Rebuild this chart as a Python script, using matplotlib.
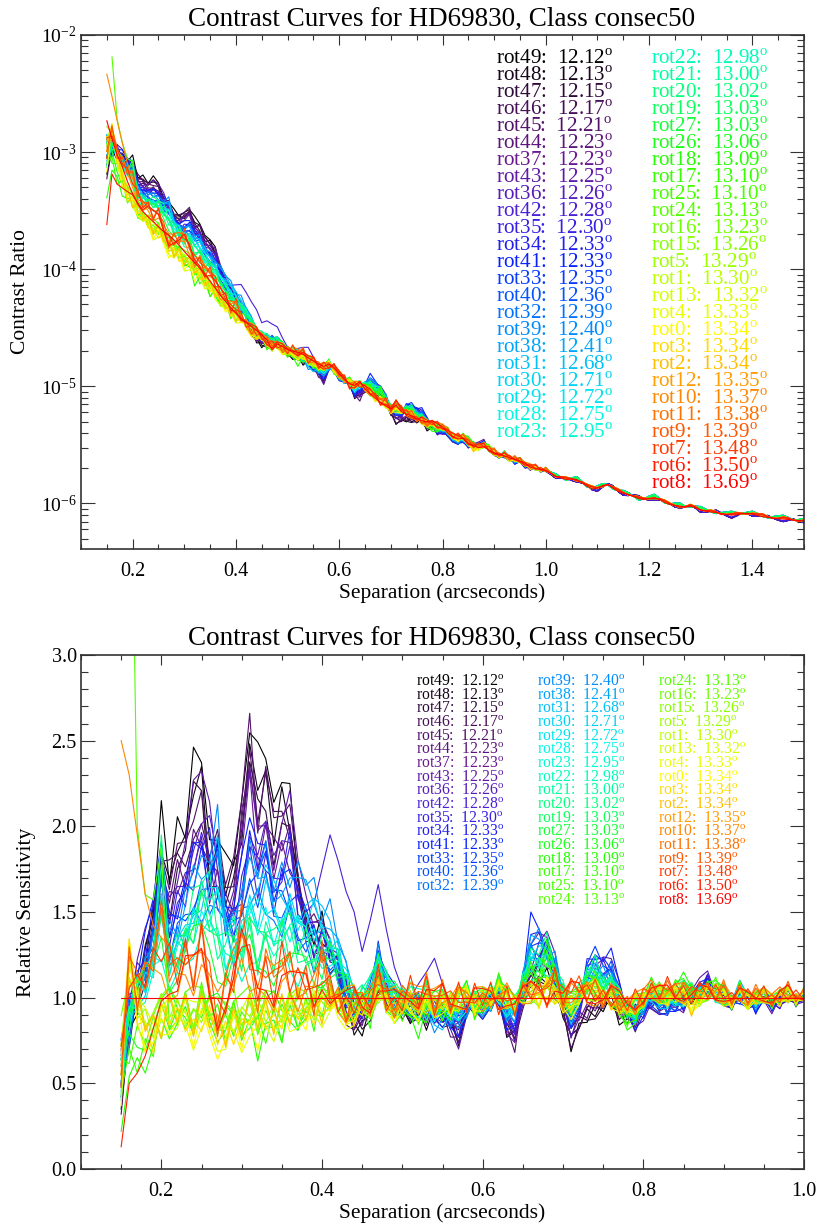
"""Contrast curves for HD69830 (class consec50): raw contrast per rotation and sensitivity relative to rot8."""
import matplotlib; matplotlib.use("Agg")
import matplotlib.pyplot as plt, numpy as np
from matplotlib.colors import LinearSegmentedColormap
from matplotlib.ticker import MultipleLocator, FixedLocator, LogLocator, NullFormatter, FormatStrFormatter

plt.rcParams["font.family"] = ["Liberation Serif", "DejaVu Serif"]
plt.rcParams["mathtext.fontset"] = "custom"
plt.rcParams["mathtext.rm"] = "Liberation Serif"

# rotations in legend order, with field rotation (deg)
rot_names = ["rot49", "rot48", "rot47", "rot46", "rot45", "rot44", "rot37", "rot43", "rot36", "rot42",
             "rot35", "rot34", "rot41", "rot33", "rot40", "rot32", "rot39", "rot38", "rot31", "rot30",
             "rot29", "rot28", "rot23", "rot22", "rot21", "rot20", "rot19", "rot27", "rot26", "rot18",
             "rot17", "rot25", "rot24", "rot16", "rot15", "rot5", "rot1", "rot13", "rot4", "rot0",
             "rot3", "rot2", "rot12", "rot10", "rot11", "rot9", "rot7", "rot6", "rot8"]
rot_angles = [12.12, 12.13, 12.15, 12.17, 12.21, 12.23, 12.23, 12.25, 12.26, 12.28,
              12.30, 12.33, 12.33, 12.35, 12.36, 12.39, 12.40, 12.41, 12.68, 12.71,
              12.72, 12.75, 12.95, 12.98, 13.00, 13.02, 13.03, 13.03, 13.06, 13.09,
              13.10, 13.10, 13.13, 13.23, 13.26, 13.29, 13.30, 13.32, 13.33, 13.34,
              13.34, 13.34, 13.35, 13.37, 13.38, 13.39, 13.48, 13.50, 13.69]

# separation grid (arcsec), one sample per 0.01"
sep = np.round(0.15 + 0.01 * np.arange(136), 2)

# contrast of the reference rotation (rot8), 0.15-1.50"
ref_contrast = [1.85e-3, 1.30e-3, 9.5e-4, 7.5e-4, 5.6e-4, 4.4e-4, 3.6e-4, 3.1e-4, 2.8e-4, 2.55e-4,
                2.3e-4, 2.1e-4, 1.95e-4, 1.78e-4, 1.6e-4, 1.42e-4, 1.27e-4, 1.14e-4, 1.02e-4, 9.1e-5,
                7.9e-5, 6.9e-5, 6.0e-5, 5.3e-5, 4.7e-5, 4.2e-5, 3.8e-5, 3.5e-5, 3.25e-5, 3.0e-5,
                2.75e-5, 2.5e-5, 2.05e-5, 2.3e-5, 2.2e-5, 2.05e-5, 2.0e-5, 1.95e-5, 1.87e-5, 1.75e-5,
                1.64e-5, 1.55e-5, 1.48e-5, 1.55e-5, 1.45e-5, 1.28e-5, 1.15e-5, 1.05e-5, 1.02e-5, 1.1e-5,
                9.5e-6, 8.6e-6, 7.9e-6, 7.3e-6, 6.8e-6, 6.4e-6, 6.9e-6, 6.1e-6, 5.8e-6, 5.6e-6,
                5.3e-6, 5.1e-6, 4.95e-6, 5.1e-6, 4.8e-6, 4.5e-6, 4.0e-6, 3.7e-6, 3.55e-6, 3.6e-6,
                3.25e-6, 3.1e-6, 3.0e-6, 3.05e-6, 2.85e-6, 2.7e-6, 2.62e-6, 2.55e-6, 2.45e-6, 2.38e-6,
                2.3e-6, 2.2e-6, 2.05e-6, 1.98e-6, 1.95e-6, 1.92e-6, 1.8e-6, 1.7e-6, 1.65e-6, 1.6e-6,
                1.62e-6, 1.6e-6, 1.5e-6, 1.4e-6, 1.33e-6, 1.35e-6, 1.42e-6, 1.45e-6, 1.35e-6, 1.27e-6,
                1.22e-6, 1.19e-6, 1.15e-6, 1.1e-6, 1.08e-6, 1.1e-6, 1.12e-6, 1.08e-6, 1.02e-6, 9.8e-7,
                9.6e-7, 9.5e-7, 9.3e-7, 9.45e-7, 9.2e-7, 8.8e-7, 8.6e-7, 8.45e-7, 8.35e-7, 8.2e-7,
                8.05e-7, 7.95e-7, 8.0e-7, 8.15e-7, 8.25e-7, 8.1e-7, 7.9e-7, 7.7e-7, 7.6e-7, 7.5e-7,
                7.4e-7, 7.35e-7, 7.3e-7, 7.2e-7, 7.15e-7, 7.1e-7]

# relative sensitivity, extreme curve of each colour group, 0.15-1.00"
rel_black = [0.35, 0.75, 0.95, 1.25, 1.55, 2.07, 1.70, 2.00, 2.00, 2.43,
             2.42, 1.85, 1.95, 1.78, 1.85, 2.10, 2.57, 2.42, 2.45, 2.10,
             2.32, 2.17, 1.72, 1.45, 1.38, 1.45, 1.25, 1.20, 0.95, 0.82,
             0.80, 0.92, 1.08, 1.00, 0.95, 0.90, 0.88, 0.92, 0.85, 0.92,
             0.88, 0.85, 0.75, 0.92, 0.98, 0.92, 0.98, 1.02, 0.80, 0.78,
             1.05, 1.10, 1.12, 1.15, 1.05, 0.90, 0.70, 0.82, 0.88, 0.92,
             0.95, 1.00, 0.88, 0.86, 0.90, 0.95, 0.98, 0.96, 1.00, 0.98,
             1.02, 1.00, 1.02, 1.08, 1.02, 1.00, 0.97, 1.02, 0.95, 0.98,
             1.03, 0.96, 1.00, 1.02, 0.98, 1.00]
rel_dpurple = [0.40, 0.80, 1.00, 1.20, 1.45, 1.75, 1.72, 1.85, 1.88, 2.10,
               2.12, 1.80, 1.92, 1.60, 1.72, 2.20, 2.63, 2.05, 2.28, 2.03,
               2.12, 2.05, 1.75, 1.50, 1.40, 1.38, 1.30, 1.15, 0.92, 0.84,
               0.85, 0.95, 1.10, 1.02, 0.95, 0.92, 0.90, 0.95, 0.88, 0.93,
               0.88, 0.82, 0.74, 0.92, 0.96, 0.93, 0.97, 1.00, 0.82, 0.72,
               0.98, 1.15, 1.25, 1.30, 1.15, 0.95, 0.75, 0.85, 0.90, 0.95,
               0.98, 1.02, 0.92, 0.88, 0.85, 0.92, 0.96, 0.95, 0.93, 1.00,
               0.98, 1.03, 1.05, 1.10, 1.03, 1.00, 0.96, 1.02, 0.97, 0.95,
               1.02, 0.94, 0.98, 1.02, 0.97, 1.00]
rel_purple = [0.55, 0.90, 1.15, 1.30, 1.50, 1.75, 1.55, 1.72, 1.85, 2.15,
              2.25, 2.18, 1.85, 1.55, 1.60, 1.85, 2.22, 1.95, 2.10, 1.85,
              2.05, 2.15, 1.70, 1.55, 1.45, 1.40, 1.35, 1.22, 1.00, 0.88,
              0.88, 0.98, 1.15, 1.05, 0.98, 0.93, 0.92, 0.96, 0.90, 0.92,
              0.90, 0.84, 0.76, 0.93, 0.98, 0.94, 0.98, 1.02, 0.85, 0.75,
              1.00, 1.25, 1.38, 1.40, 1.25, 1.00, 0.80, 0.90, 1.10, 1.15,
              1.25, 1.18, 1.05, 0.90, 0.88, 0.90, 0.95, 0.94, 0.92, 0.98,
              0.96, 1.04, 1.08, 1.12, 1.04, 1.00, 0.95, 1.03, 0.97, 0.93,
              1.02, 0.93, 0.98, 1.03, 0.96, 1.00]
rel_blue = [0.60, 0.85, 1.05, 1.30, 1.55, 1.97, 1.45, 1.55, 1.65, 1.80,
            1.85, 1.72, 1.95, 1.60, 1.50, 1.75, 1.95, 1.88, 1.95, 1.65,
            1.75, 1.70, 1.55, 1.48, 1.42, 1.35, 1.30, 1.20, 1.05, 0.92,
            0.92, 1.02, 1.30, 1.12, 1.02, 0.95, 0.92, 0.96, 0.88, 0.90,
            0.86, 0.85, 0.82, 0.92, 0.97, 0.92, 0.96, 1.00, 0.86, 0.85,
            1.05, 1.45, 1.40, 1.32, 1.20, 1.00, 0.85, 0.95, 1.20, 1.30,
            1.22, 1.25, 1.05, 0.92, 0.85, 0.92, 0.97, 0.95, 0.90, 0.95,
            0.98, 1.02, 1.06, 1.08, 1.02, 1.00, 0.95, 1.00, 0.98, 0.92,
            1.02, 0.95, 1.00, 1.04, 0.97, 1.00]
rel_cyan = [0.45, 0.80, 1.00, 1.15, 1.30, 1.60, 1.35, 1.40, 1.55, 1.75,
            1.70, 1.85, 2.05, 1.50, 1.45, 1.60, 1.80, 1.75, 1.85, 1.72,
            1.70, 1.72, 1.68, 1.72, 1.65, 1.55, 1.50, 1.35, 1.15, 0.98,
            0.95, 1.05, 1.25, 1.10, 1.00, 0.95, 0.92, 0.90, 0.88, 0.86,
            0.84, 0.88, 0.86, 0.92, 0.96, 0.94, 0.98, 1.02, 0.90, 0.92,
            1.10, 1.35, 1.38, 1.30, 1.22, 1.05, 0.88, 1.00, 1.12, 1.18,
            1.15, 1.12, 1.02, 0.92, 0.88, 0.95, 1.00, 0.98, 0.95, 1.00,
            1.00, 1.05, 1.04, 1.06, 1.00, 1.02, 0.98, 1.08, 0.98, 0.95,
            1.02, 0.97, 1.00, 1.03, 0.98, 1.02]
rel_green = [0.40, 0.85, 1.00, 1.15, 1.30, 1.85, 1.30, 1.30, 1.45, 1.60,
             1.72, 1.65, 1.40, 1.30, 1.45, 1.35, 1.50, 1.30, 1.45, 1.35,
             1.52, 1.40, 1.30, 1.38, 1.25, 1.30, 1.35, 1.22, 1.10, 1.00,
             1.02, 1.08, 1.28, 1.12, 1.05, 1.00, 1.02, 0.98, 1.05, 0.95,
             1.00, 0.92, 0.95, 1.05, 0.98, 1.00, 1.02, 1.08, 1.00, 0.98,
             1.10, 1.25, 1.30, 1.35, 1.20, 1.05, 0.95, 1.05, 1.15, 1.20,
             1.12, 1.10, 1.02, 0.88, 0.92, 0.98, 1.05, 1.02, 1.00, 1.05,
             1.08, 1.06, 1.02, 1.05, 1.02, 1.04, 0.98, 1.04, 0.97, 0.98,
             1.03, 0.97, 1.01, 1.04, 0.98, 1.02]
rel_lowgreen = [0.30, 0.50, 0.55, 0.62, 0.70, 0.80, 0.85, 0.80, 0.92, 0.85,
                0.95, 0.88, 0.82, 0.75, 0.88, 0.80, 0.85, 0.72, 0.78, 0.85,
                0.80, 0.88, 0.85, 0.95, 0.90, 0.98, 1.05, 0.95, 0.90, 0.85,
                0.92, 0.88, 1.10, 0.95, 0.90, 0.85, 0.92, 0.80, 0.90, 0.95,
                0.88, 0.92, 0.98, 1.05, 0.92, 0.95, 1.00, 1.10, 1.00, 0.95,
                1.05, 1.20, 1.15, 1.30, 1.10, 1.02, 0.92, 1.00, 1.08, 1.12,
                1.05, 1.02, 0.95, 0.78, 0.90, 0.98, 1.08, 1.05, 1.02, 1.10,
                1.12, 1.05, 1.00, 1.06, 1.12, 1.02, 0.96, 1.06, 0.95, 1.00,
                1.05, 0.95, 1.02, 1.05, 0.97, 1.03]
rel_yellow = [0.45, 1.30, 0.90, 0.75, 0.72, 0.80, 0.88, 0.82, 0.90, 0.78,
              0.85, 0.80, 0.72, 0.70, 0.82, 0.75, 0.85, 0.78, 0.88, 0.80,
              0.90, 0.85, 0.92, 0.88, 0.95, 0.90, 0.98, 0.92, 0.88, 0.85,
              0.92, 0.95, 1.08, 0.96, 0.90, 0.92, 0.95, 0.90, 0.96, 0.92,
              0.96, 0.94, 0.98, 1.02, 0.95, 0.98, 1.00, 1.05, 1.00, 0.96,
              1.02, 1.05, 1.00, 1.08, 1.02, 0.96, 0.92, 1.00, 1.04, 1.06,
              1.02, 0.98, 0.96, 0.90, 0.95, 0.98, 1.04, 1.02, 0.98, 1.05,
              1.02, 0.90, 1.00, 1.04, 1.06, 1.00, 0.97, 1.03, 0.96, 0.97,
              1.02, 0.98, 1.00, 1.03, 0.98, 1.01]
rel_orange = [0.55, 1.20, 1.00, 1.15, 1.25, 1.45, 1.25, 1.15, 1.30, 1.20,
              1.35, 1.10, 0.88, 1.05, 1.15, 1.50, 1.20, 1.05, 1.20, 1.10,
              1.28, 1.15, 1.05, 1.15, 1.00, 1.25, 1.05, 0.95, 0.92, 1.00,
              0.95, 0.98, 1.15, 1.00, 0.95, 0.98, 1.05, 1.00, 1.08, 0.96,
              1.05, 0.98, 1.02, 0.95, 1.03, 0.98, 1.02, 0.95, 1.03, 0.96,
              1.02, 1.05, 1.10, 1.02, 1.15, 1.00, 1.05, 1.08, 1.02, 1.05,
              1.00, 1.03, 0.98, 0.96, 0.97, 1.02, 1.05, 1.03, 1.08, 1.06,
              1.05, 1.03, 1.06, 1.04, 1.02, 1.05, 1.00, 1.03, 0.99, 1.02,
              1.03, 0.99, 1.02, 1.06, 1.00, 1.02]

# relative sensitivity beyond 1.0" (only seen in the contrast panel), 1.01-1.50"
tail_dark = [0.98, 0.96, 1.00, 1.03, 0.97, 0.95, 1.00, 1.04, 0.98, 0.94,
             0.97, 1.02, 1.05, 1.00, 0.96, 0.98, 1.03, 1.06, 1.01, 0.97,
             0.95, 0.99, 1.04, 1.02, 0.97, 0.96, 1.00, 1.03, 0.99, 0.95,
             0.98, 1.02, 1.05, 1.01, 0.97, 0.94, 0.98, 1.02, 0.99, 0.96,
             0.98, 1.01, 1.04, 1.00, 0.97, 0.95, 0.98, 1.02, 0.99, 0.96]
tail_mid = [1.03, 1.05, 1.01, 0.98, 1.02, 1.06, 1.03, 0.99, 1.01, 1.05,
            1.04, 1.00, 0.98, 1.02, 1.06, 1.04, 1.00, 0.97, 1.01, 1.05,
            1.07, 1.03, 0.99, 1.01, 1.05, 1.06, 1.02, 0.99, 1.03, 1.07,
            1.04, 1.00, 0.98, 1.02, 1.05, 1.08, 1.04, 1.00, 1.02, 1.06,
            1.04, 1.01, 0.99, 1.03, 1.06, 1.08, 1.04, 1.00, 1.02, 1.05]
tail_light = [1.01, 0.99, 1.03, 1.05, 1.00, 0.97, 1.02, 1.04, 1.06, 1.01,
              0.98, 1.00, 1.03, 1.05, 1.02, 0.99, 1.01, 1.04, 1.03, 1.00,
              0.98, 1.02, 1.05, 1.03, 1.00, 0.97, 1.01, 1.04, 1.02, 0.99,
              1.01, 1.04, 1.02, 0.98, 1.00, 1.03, 1.05, 1.01, 0.98, 1.02,
              1.04, 1.06, 1.02, 0.99, 1.01, 1.05, 1.03, 1.00, 0.98, 1.02]

# curve-to-curve wiggle added on top of the group shape, 0.15-1.00"
wig_a = [0.00, 0.08, -0.06, 0.05, -0.08, 0.10, -0.05, 0.07, -0.09, 0.04,
         -0.06, 0.09, -0.04, 0.08, -0.10, 0.06, -0.03, 0.09, -0.07, 0.05,
         -0.08, 0.10, -0.05, 0.03, -0.09, 0.07, -0.04, 0.06, -0.05, 0.04,
         -0.03, 0.05, -0.06, 0.04, -0.02, 0.05, -0.04, 0.03, -0.05, 0.04,
         -0.03, 0.05, -0.04, 0.02, -0.05, 0.04, -0.03, 0.05, -0.04, 0.03,
         -0.02, 0.04, -0.05, 0.03, -0.04, 0.05, -0.02, 0.04, -0.03, 0.05,
         -0.04, 0.03, -0.05, 0.02, -0.04, 0.03, -0.02, 0.04, -0.03, 0.02,
         -0.04, 0.03, -0.02, 0.04, -0.03, 0.02, -0.03, 0.04, -0.02, 0.03,
         -0.03, 0.02, -0.04, 0.03, -0.02, 0.03]
wig_b = [0.05, -0.07, 0.09, -0.04, 0.06, -0.10, 0.08, -0.03, 0.07, -0.08,
         0.10, -0.05, 0.06, -0.09, 0.04, -0.07, 0.10, -0.04, 0.05, -0.08,
         0.07, -0.06, 0.09, -0.05, 0.04, -0.08, 0.06, -0.03, 0.05, -0.06,
         0.04, -0.03, 0.05, -0.05, 0.03, -0.04, 0.06, -0.03, 0.04, -0.05,
         0.03, -0.04, 0.05, -0.03, 0.04, -0.02, 0.05, -0.04, 0.03, -0.05,
         0.04, -0.03, 0.02, -0.05, 0.04, -0.03, 0.05, -0.02, 0.04, -0.04,
         0.03, -0.05, 0.02, -0.03, 0.05, -0.04, 0.03, -0.02, 0.04, -0.03,
         0.02, -0.04, 0.03, -0.02, 0.04, -0.03, 0.02, -0.03, 0.04, -0.02,
         0.03, -0.03, 0.02, -0.04, 0.03, -0.02]
wig_c = [-0.05, -0.02, 0.06, 0.09, 0.03, -0.06, -0.10, -0.04, 0.05, 0.10,
         0.06, -0.03, -0.09, -0.07, 0.02, 0.08, 0.10, 0.02, -0.06, -0.09,
         -0.03, 0.05, 0.09, 0.04, -0.04, -0.08, -0.05, 0.03, 0.07, 0.05,
         -0.02, -0.06, -0.04, 0.03, 0.06, 0.02, -0.04, -0.05, 0.00, 0.05,
         0.04, -0.02, -0.05, -0.03, 0.03, 0.05, 0.02, -0.03, -0.05, -0.01,
         0.04, 0.05, 0.00, -0.04, -0.04, 0.02, 0.05, 0.03, -0.03, -0.05,
         -0.01, 0.04, 0.04, -0.01, -0.04, -0.03, 0.02, 0.04, 0.02, -0.03,
         -0.04, 0.00, 0.03, 0.03, -0.02, -0.04, -0.01, 0.03, 0.03, -0.01,
         -0.03, -0.02, 0.02, 0.03, 0.00, -0.02]
wig_d = [0.06, 0.03, -0.05, -0.09, -0.02, 0.07, 0.10, 0.03, -0.06, -0.10,
         -0.04, 0.05, 0.09, 0.06, -0.03, -0.09, -0.08, 0.02, 0.08, 0.09,
         0.02, -0.06, -0.09, -0.03, 0.05, 0.08, 0.04, -0.04, -0.07, -0.03,
         0.03, 0.06, 0.03, -0.04, -0.05, -0.01, 0.04, 0.05, 0.01, -0.04,
         -0.05, 0.01, 0.05, 0.03, -0.03, -0.05, -0.02, 0.03, 0.05, 0.02,
         -0.04, -0.05, 0.00, 0.04, 0.04, -0.02, -0.05, -0.03, 0.03, 0.05,
         0.01, -0.04, -0.04, 0.01, 0.04, 0.03, -0.02, -0.04, -0.02, 0.03,
         0.04, 0.00, -0.03, -0.03, 0.02, 0.04, 0.01, -0.03, -0.03, 0.01,
         0.03, 0.02, -0.02, -0.03, 0.00, 0.02]
wig_e = [-0.08, 0.04, 0.10, -0.06, 0.02, 0.08, -0.09, 0.05, 0.03, -0.07,
         0.09, -0.02, -0.08, 0.06, 0.10, -0.05, 0.03, -0.09, 0.07, 0.02,
         -0.06, 0.08, -0.03, -0.07, 0.09, 0.01, -0.05, 0.07, -0.04, 0.02,
         0.05, -0.06, 0.02, 0.04, -0.05, 0.06, -0.02, -0.04, 0.05, -0.03,
         0.04, -0.05, 0.03, 0.05, -0.04, 0.02, -0.05, 0.04, 0.01, -0.04,
         0.05, -0.02, -0.04, 0.04, 0.02, -0.05, 0.03, -0.03, 0.05, -0.01,
         -0.04, 0.04, -0.02, 0.03, -0.05, 0.02, 0.04, -0.03, 0.02, -0.04,
         0.03, 0.01, -0.04, 0.03, -0.02, 0.04, -0.03, 0.02, -0.02, 0.04,
         -0.03, 0.02, 0.03, -0.03, 0.01, -0.02]

# colour group of each rotation (9 = reference), how far it goes toward the group extreme,
# which wiggle it carries and how strongly
group = [0, 0, 0, 1, 1, 1, 1, 2, 2, 2, 2, 3, 3, 3, 3, 3, 4, 4, 4, 4, 4, 4, 4,
         5, 5, 5, 5, 5, 6, 6, 6, 6, 6, 7, 7, 7, 7, 7, 7, 7, 7, 7, 8, 8, 8, 8, 8, 8, 9]
amp = [1.00, 0.88, 0.80, 0.95, 1.00, 0.85, 0.75, 1.00, 0.85, 0.70, 0.75,
       0.90, 1.00, 0.80, 0.70, 0.60, 1.00, 0.90, 0.80, 0.70, 0.65, 0.55, 0.50,
       0.60, 0.80, 1.00, 0.70, 0.50, 0.50, 1.00, 0.80, 0.60, 0.40,
       0.30, 0.40, 0.50, 0.60, 0.70, 0.85, 1.00, 0.80, 0.60,
       0.50, 0.70, 0.90, 1.00, 0.80, 0.60, 0.00]
wig_of = [0, 1, 2, 3, 4, 0, 1, 2, 3, 4, 0, 1, 2, 3, 4, 0, 1, 2, 3, 4, 0, 1, 2, 3, 4,
          0, 1, 2, 3, 4, 0, 1, 2, 3, 4, 0, 1, 2, 3, 4, 0, 1, 2, 3, 4, 0, 1, 2, 0]
wig_gain = [0.8, 1.0, 1.2, 1.2, 1.0, 1.2, 1.0, 1.2, 1.2, 1.0, 1.2, 1.2, 1.0, 1.2, 1.0, 1.2,
            1.3, 1.0, 1.2, 1.3, 1.0, 1.2, 1.3, 1.3, 1.2, 1.0, 1.3, 1.2, 1.3, 1.0, 1.3, 1.2, 1.3,
            1.0, 1.3, 1.2, 1.0, 1.3, 1.2, 1.0, 1.3, 1.2, 1.5, 1.3, 1.5, 1.2, 1.5, 1.3, 0.0]

# individual features
rot42_bump = [1.60, 1.50, 1.55, 1.75, 1.95, 1.80, 1.62, 1.50, 1.27, 1.45,
              1.66, 1.40, 1.18, 1.05, 1.00, 1.08, 1.15, 1.23, 1.08, 0.95]  # 0.37-0.56"
rot24_head = [np.nan, 5.0, 2.0, 1.60, 1.57, 1.88]   # 0.15-0.20"
rot10_head = [2.50, 2.30, 1.95, 1.60, 1.42, 1.35]
rot6_head = [0.13, 0.50, 0.56, 0.66, 0.82, 0.98]

profiles = [rel_black, rel_dpurple, rel_purple, rel_blue, rel_cyan, rel_green, rel_lowgreen, rel_yellow, rel_orange]
tails = [tail_dark] * 3 + [tail_mid] * 3 + [tail_light] * 3
wiggles = [wig_a, wig_b, wig_c, wig_d, wig_e]

rel = []
for g, a, w, wg in zip(group, amp, wig_of, wig_gain):
    if g == 9:
        rel.append(np.ones(len(sep)))
        continue
    r = 1 + a * (np.array(profiles[g] + tails[g]) - 1)
    r[:86] += wg * np.array(wiggles[w])
    rel.append(r)
rel[9][22:42] = rot42_bump
rel[32][0:6] = rot24_head
rel[43][0:6] = rot10_head
rel[47][0:6] = rot6_head
contrast = [np.array(ref_contrast) * r for r in rel]

# IDL-like rainbow table
cmap = LinearSegmentedColormap.from_list("idl39", [
    (0.0, "#000000"), (0.06, "#451055"), (0.125, "#681890"), (0.19, "#4a20d8"), (0.25, "#0820ff"),
    (0.3125, "#0070ff"), (0.375, "#00c0f8"), (0.44, "#00f8e8"), (0.5, "#00ffa0"), (0.6, "#20ff00"),
    (0.67, "#58ff00"), (0.75, "#b8ff00"), (0.8125, "#ffff00"), (0.875, "#ffa000"), (0.94, "#ff5800"),
    (1.0, "#ff0000")])
colors = [cmap(i / 48) for i in range(49)]
labels = [f"{n}:  {a:.2f}" + r"$^{\rm o}$" for n, a in zip(rot_names, rot_angles)]

W, H = 819, 1226
fig = plt.figure(figsize=(W / 100, H / 100), dpi=100)
ax1 = fig.add_axes([81 / W, 1 - 549 / H, 723 / W, 514 / H])
ax2 = fig.add_axes([81 / W, 1 - 1169 / H, 723 / W, 514 / H])

for i in range(49):
    ax1.plot(sep, contrast[i], color=colors[i], lw=0.8)
    ax2.plot(sep, rel[i], color=colors[i], lw=0.8)


def style(ax):
    for s in ax.spines.values():
        s.set_linewidth(1.2); s.set_color("#333333")
    ax.tick_params(which="both", direction="in", top=True, right=True, width=0.8, colors="#333333",
                   labelcolor="black", labelsize=14.5)
    ax.tick_params(axis="x", which="major", length=7.2, pad=9)
    ax.tick_params(axis="x", which="minor", length=3.6)
    ax.tick_params(axis="y", which="major", length=10, pad=3)
    ax.tick_params(axis="y", which="minor", length=5)
    ax.xaxis.set_major_locator(MultipleLocator(0.2))
    ax.xaxis.set_minor_locator(MultipleLocator(0.05))
    ax.xaxis.set_major_formatter(FormatStrFormatter("%.1f"))


ax1.set_yscale("log")
ax1.set_xlim(0.1, 1.5); ax1.set_ylim(4.08e-7, 1e-2)
style(ax1)
ax1.yaxis.set_major_locator(FixedLocator([1e-6, 1e-5, 1e-4, 1e-3, 1e-2]))
ax1.set_yticklabels([r"$\mathregular{10^{-%d}}$" % k for k in (6, 5, 4, 3, 2)], fontsize=14)
ax1.yaxis.set_minor_locator(LogLocator(base=10, subs=np.arange(2, 10)))
ax1.yaxis.set_minor_formatter(NullFormatter())

ax2.set_xlim(0.1, 1.0); ax2.set_ylim(0, 3.0)
style(ax2)
ax2.yaxis.set_major_locator(MultipleLocator(0.5))
ax2.yaxis.set_minor_locator(MultipleLocator(0.1))
ax2.yaxis.set_major_formatter(FormatStrFormatter("%.1f"))

title = "Contrast Curves for HD69830, Class consec50"
fig.text(441.5 / W, 1 - 26 / H, title, ha="center", va="baseline", fontsize=19.5)
fig.text(441.5 / W, 1 - 645 / H, title, ha="center", va="baseline", fontsize=19.5)
fig.text(442.5 / W, 1 - 598 / H, "Separation (arcseconds)", ha="center", va="baseline", fontsize=15.5)
fig.text(442.5 / W, 1 - 1218 / H, "Separation (arcseconds)", ha="center", va="baseline", fontsize=15.5)
fig.text(21 / W, 1 - 292 / H, "Contrast Ratio", ha="center", va="center", rotation=90, fontsize=15.5)
fig.text(27 / W, 1 - 912 / H, "Relative Sensitivity", ha="center", va="center", rotation=90, fontsize=15.5)

# legend of the contrast panel: two columns
for i in range(49):
    col, row = (0, i) if i < 23 else (1, i - 23)
    fig.text((495.7 + 155 * col) / W, 1 - (63.5 + 17.03 * row) / H, labels[i], color=colors[i],
             ha="left", va="baseline", fontsize=15.2)

# legend of the sensitivity panel: three columns (rot24 is listed twice)
leg2 = [list(range(0, 16)), list(range(16, 33)), list(range(32, 49))]
for col, idx in enumerate(leg2):
    for row, i in enumerate(idx):
        fig.text((416 + 120.85 * col) / W, 1 - (686 + 13.67 * row) / H, labels[i], color=colors[i],
                 ha="left", va="baseline", fontsize=11.3)

fig.savefig("out.png", dpi=100)
